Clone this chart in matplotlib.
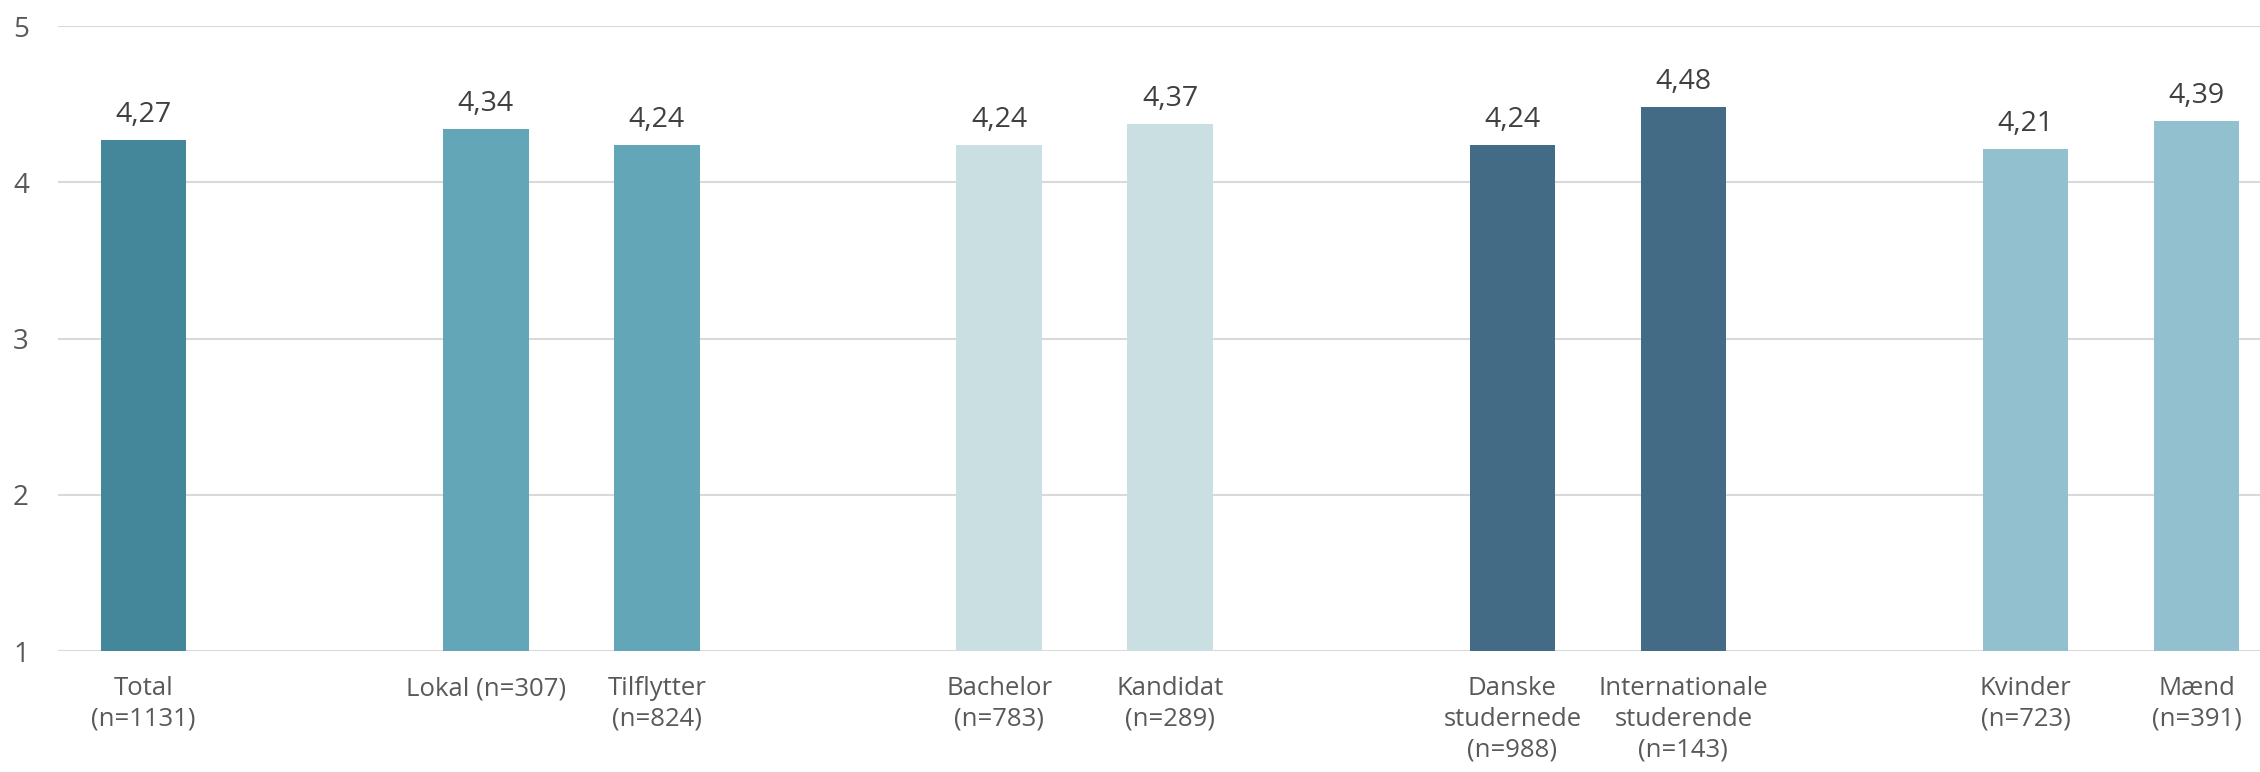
import matplotlib.pyplot as plt
import numpy as np

plt.rcParams['font.family'] = ['Open Sans', 'DejaVu Sans']

# data
labels = ['Total\n(n=1131)', 'Lokal (n=307)', 'Tilflytter\n(n=824)',
          'Bachelor\n(n=783)', 'Kandidat\n(n=289)',
          'Danske\nstudernede\n(n=988)', 'Internationale\nstuderende\n(n=143)',
          'Kvinder\n(n=723)', 'Mænd\n(n=391)']
values = [4.27, 4.34, 4.24, 4.24, 4.37, 4.24, 4.48, 4.21, 4.39]
# slot positions, empty slot between groups
slots = [0, 2, 3, 5, 6, 8, 9, 11, 12]
colors = ['#45879A', '#62A6B8', '#62A6B8', '#C9DFE2', '#C9DFE2',
          '#446B86', '#446B86', '#92C0CE', '#92C0CE']

fig = plt.figure(figsize=(22.6, 7.72), dpi=100)
ax = fig.add_axes([0.0257, 0.1567, 0.9743, 0.8096])

ax.bar(slots, np.array(values) - 1, bottom=1, width=0.5, color=colors, zorder=3)

for x, v in zip(slots, values):
    ax.annotate('{:.2f}'.format(v).replace('.', ','), (x, v), xytext=(0, 8),
                textcoords='offset points', ha='center', va='bottom',
                fontsize=20.5, color='#404040')

ax.set_ylim(1, 5)
ax.set_xlim(-0.5, 12.37)
ax.set_yticks([1, 2, 3, 4, 5])
ax.yaxis.grid(True, color='#D9D9D9', linewidth=1.5, zorder=0)
ax.set_axisbelow(True)
for s in ax.spines.values():
    s.set_visible(False)

ax.set_xticks(slots)
ax.set_xticklabels(labels, fontsize=18.5, color='#595959', linespacing=1.3)
ax.tick_params(axis='x', length=0, pad=18)
ax.tick_params(axis='y', length=0, labelsize=20, labelcolor='#595959', pad=21)

fig.savefig('out.png', dpi=100)
